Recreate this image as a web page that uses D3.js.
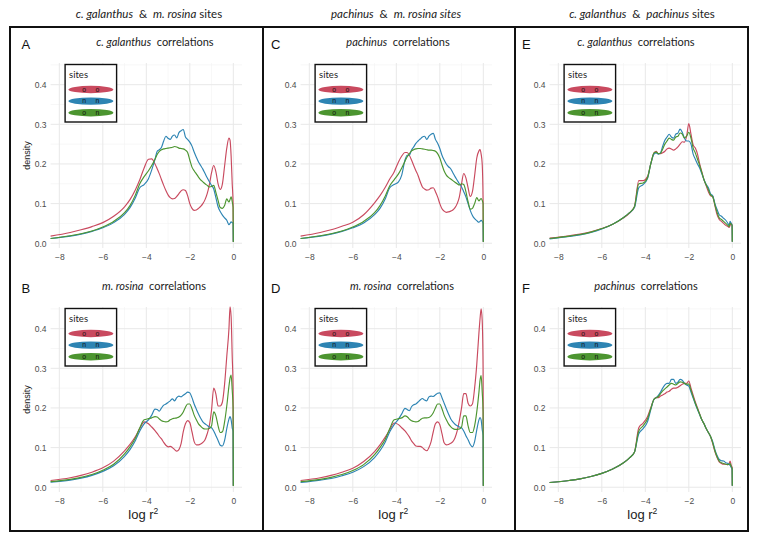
<!DOCTYPE html>
<html><head><meta charset="utf-8">
<script src="https://cdn.jsdelivr.net/npm/d3@7"></script>
<style>body{margin:0;background:#fff} svg{display:block}</style>
</head><body><svg id="c" width="758" height="541"></svg>
<script>
// ---------------- DATA ----------------
const logR2 = [-8.4,-7.5,-7,-6.5,-6,-5.5,-5,-4.75,-4.5,
  -4.3,-4.1,-3.9,-3.75,-3.6,-3.5,-3.4,-3.3,-3.2,-3.1,
  -3.0,-2.9,-2.8,-2.7,-2.6,-2.5,-2.4,-2.3,-2.2,-2.1,
  -2.0,-1.9,-1.8,-1.7,-1.6,-1.5,-1.4,-1.3,-1.2,-1.1,
  -1.0,-0.9,-0.8,-0.7,-0.6,-0.5,-0.4,-0.3,-0.2,
  -0.15,-0.1,-0.05,-0.01,0];
const siteKeys = ["o o","n n","o n"];
const xTicks = [-8,-6,-4,-2,0];
const yTicks = [0,0.1,0.2,0.3,0.4];
const columnHeaders = [
  [["c. galanthus",1],["  &  ",0],["m. rosina",1],[" sites",0]],
  [["pachinus",1],["  &  ",0],["m. rosina sites",1]],
  [["c. galanthus",1],["  &  ",0],["pachinus",1],[" sites",0]]
];
const panelLetters = ["A","B","C","D","E","F"];
const panelSpecies = ["c. galanthus","m. rosina","pachinus","m. rosina","c. galanthus","pachinus"];

// Panel A: c. galanthus correlations (c. galanthus & m. rosina sites)
const A_oo = [.018,.027,.034,.042,.052,.068,.092,.11,.135,
  .16,.19,.212,.213,.2,.188,.175,.16,.146,.133,
  .122,.115,.112,.113,.118,.125,.132,.135,.133,.12,
  .1,.088,.083,.084,.088,.093,.1,.11,.125,.148,
  .178,.196,.18,.15,.136,.15,.195,.24,.265,
  .26,.22,.15,.1,.004];
const A_nn = [.012,.018,.023,.03,.039,.052,.073,.09,.115,
  .14,.148,.163,.185,.212,.232,.236,.242,.258,.27,
  .265,.262,.27,.273,.266,.279,.284,.287,.268,.262,
  .255,.245,.23,.217,.205,.196,.187,.176,.165,.155,
  .146,.137,.115,.092,.08,.071,.064,.058,.047,
  .05,.054,.052,.05,.004];
const A_on = [.012,.019,.024,.031,.041,.055,.077,.095,.122,
  .15,.168,.183,.196,.212,.224,.232,.236,.238,.239,
  .24,.241,.242,.244,.243,.24,.239,.238,.235,.229,
  .21,.192,.183,.175,.167,.16,.155,.15,.146,.142,
  .143,.146,.128,.108,.09,.088,.095,.112,.104,
  .11,.117,.105,.09,.003];

// Panel B: m. rosina correlations (c. galanthus & m. rosina sites)
const B_oo = [.017,.024,.03,.038,.049,.066,.092,.108,.128,
  .148,.165,.16,.152,.143,.136,.128,.122,.113,.106,
  .102,.103,.1,.095,.091,.095,.11,.14,.16,.168,
  .163,.14,.115,.107,.107,.109,.113,.12,.135,.156,
  .195,.25,.235,.205,.205,.215,.26,.33,.4,
  .455,.43,.33,.25,.004];
const B_nn = [.013,.018,.023,.03,.04,.054,.078,.095,.118,
  .142,.16,.17,.182,.197,.196,.192,.2,.207,.21,
  .214,.218,.223,.218,.226,.23,.228,.232,.236,.24,
  .238,.226,.21,.197,.185,.174,.165,.16,.156,.152,
  .15,.142,.13,.118,.106,.104,.118,.148,.172,
  .178,.17,.15,.14,.004];
const B_on = [.014,.02,.025,.032,.043,.058,.084,.102,.124,
  .15,.17,.173,.175,.178,.177,.172,.168,.166,.165,
  .166,.17,.173,.174,.175,.177,.182,.19,.202,.21,
  .21,.198,.182,.17,.16,.154,.149,.147,.147,.148,
  .155,.19,.18,.155,.138,.14,.165,.205,.255,
  .275,.283,.245,.2,.003];

// Panel C: pachinus correlations (pachinus & m. rosina sites)
const C_oo = [.018,.027,.034,.043,.053,.072,.102,.12,.142,
  .162,.18,.205,.22,.229,.229,.222,.21,.196,.183,
  .171,.155,.142,.137,.134,.135,.139,.14,.13,.117,
  .1,.087,.081,.078,.079,.081,.084,.09,.1,.117,
  .15,.176,.165,.14,.118,.13,.17,.215,.233,
  .236,.225,.2,.11,.004];
const C_nn = [.012,.018,.023,.03,.039,.051,.072,.088,.113,
  .14,.148,.155,.172,.21,.222,.222,.235,.243,.252,
  .258,.263,.268,.27,.262,.27,.275,.277,.262,.252,
  .239,.222,.21,.2,.193,.188,.178,.168,.159,.15,
  .142,.13,.117,.1,.083,.07,.062,.057,.053,
  .055,.058,.055,.05,.004];
const C_on = [.012,.019,.024,.031,.041,.055,.077,.095,.12,
  .145,.16,.175,.19,.207,.218,.226,.233,.236,.238,
  .239,.239,.238,.237,.236,.235,.235,.234,.232,.226,
  .215,.198,.182,.172,.166,.162,.158,.154,.15,.147,
  .15,.148,.13,.105,.086,.088,.1,.115,.107,
  .11,.113,.108,.1,.003];

// Panel D: m. rosina correlations (pachinus & m. rosina sites)
const D_oo = [.017,.024,.03,.038,.048,.065,.09,.107,.127,
  .145,.162,.158,.15,.142,.135,.127,.117,.11,.104,
  .103,.103,.1,.095,.092,.1,.115,.14,.16,.165,
  .158,.135,.112,.107,.108,.111,.115,.125,.142,.168,
  .2,.236,.236,.212,.205,.21,.25,.31,.39,
  .425,.45,.42,.3,.004];
const D_nn = [.012,.018,.022,.029,.038,.052,.075,.092,.115,
  .14,.158,.172,.185,.199,.196,.193,.203,.208,.21,
  .215,.22,.224,.22,.218,.228,.23,.229,.233,.237,
  .238,.226,.212,.198,.185,.173,.165,.159,.155,.152,
  .15,.142,.13,.12,.108,.102,.115,.145,.17,
  .176,.17,.145,.13,.004];
const D_on = [.014,.02,.025,.032,.042,.057,.082,.1,.122,
  .148,.17,.173,.175,.18,.178,.172,.168,.166,.165,
  .166,.17,.174,.175,.175,.176,.18,.188,.2,.21,
  .21,.198,.182,.17,.16,.153,.148,.146,.146,.147,
  .152,.18,.18,.155,.138,.138,.155,.19,.24,
  .27,.282,.24,.19,.003];

// Panel E: c. galanthus correlations (c. galanthus & pachinus sites)
const E_oo = [.013,.019,.023,.029,.037,.048,.064,.075,.092,
  .158,.158,.168,.2,.228,.232,.226,.226,.228,.232,
  .238,.24,.238,.235,.238,.243,.25,.256,.255,.27,
  .302,.275,.248,.24,.225,.2,.18,.16,.145,.13,
  .12,.118,.095,.072,.06,.055,.05,.045,.042,
  .04,.045,.05,.045,.004];
const E_nn = [.011,.017,.021,.027,.036,.048,.065,.076,.09,
  .14,.148,.163,.2,.225,.228,.225,.228,.245,.26,
  .268,.275,.268,.265,.275,.278,.288,.28,.265,.258,
  .258,.25,.225,.212,.2,.19,.175,.16,.148,.14,
  .125,.12,.1,.085,.072,.068,.063,.058,.05,
  .045,.055,.05,.045,.004];
const E_on = [.012,.018,.022,.028,.037,.048,.065,.076,.092,
  .15,.152,.165,.2,.228,.23,.226,.227,.238,.25,
  .258,.265,.262,.26,.268,.27,.278,.275,.266,.27,
  .28,.265,.24,.228,.212,.196,.178,.16,.147,.135,
  .122,.117,.097,.078,.064,.06,.055,.05,.045,
  .042,.05,.048,.045,.004];

// Panel F: pachinus correlations (c. galanthus & pachinus sites)
const F_oo = [.012,.017,.021,.027,.035,.046,.062,.073,.088,
  .15,.162,.178,.2,.222,.226,.226,.23,.233,.236,
  .24,.242,.247,.25,.25,.252,.256,.26,.262,.262,
  .268,.25,.232,.215,.2,.185,.17,.16,.148,.138,
  .128,.11,.09,.075,.064,.06,.058,.058,.057,
  .06,.066,.055,.05,.004];
const F_nn = [.012,.017,.021,.027,.035,.046,.062,.073,.088,
  .135,.148,.165,.195,.222,.226,.232,.24,.25,.258,
  .262,.262,.272,.272,.262,.265,.272,.27,.262,.258,
  .255,.24,.225,.21,.196,.183,.17,.16,.148,.138,
  .128,.115,.095,.08,.07,.067,.066,.062,.06,
  .058,.055,.05,.045,.004];
const F_on = [.012,.017,.021,.027,.035,.046,.062,.073,.088,
  .142,.155,.172,.198,.222,.226,.229,.236,.243,.248,
  .253,.258,.262,.26,.258,.262,.266,.265,.262,.26,
  .26,.245,.228,.212,.198,.184,.17,.16,.148,.138,
  .128,.112,.092,.077,.066,.062,.06,.058,.057,
  .058,.06,.052,.048,.004];

const panelSeries = [[A_oo,A_nn,A_on],[B_oo,B_nn,B_on],[C_oo,C_nn,C_on],
                     [D_oo,D_nn,D_on],[E_oo,E_nn,E_on],[F_oo,F_nn,F_on]];

// ---------------- LAYOUT / STYLE ----------------
const colors = ["#c94a5f","#2d84b3","#4c9530"];
const colPlotLeft = [50.6, 300.6, 549.6];
const rowPlotTop = [63, 307];
const plotW = 191.4, plotH = 185;
const titleCenters = [155,154,398,402,636,646];
const headerCenters = [149,396,642];
const SANS = "'Liberation Sans', Arial, sans-serif";
const LATO = "Lato, 'Open Sans', sans-serif";

const svg = d3.select("#c");
svg.append("rect").attr("width",758).attr("height",541).attr("fill","#fff");

// column headers
columnHeaders.forEach((parts,i)=>{
  const t = svg.append("text").attr("x",headerCenters[i]).attr("y",18)
    .attr("text-anchor","middle").attr("font-family",LATO).attr("font-size",11.5)
    .attr("fill","#222").style("white-space","pre");
  parts.forEach(p=>t.append("tspan").text(p[0]).attr("font-style",p[1]?"italic":"normal"));
});

panelSeries.forEach((series,pi)=>{
  const col = Math.floor(pi/2), row = pi%2;
  const left = colPlotLeft[col], top = rowPlotTop[row];
  const x = d3.scaleLinear().domain([-8.4,0.4]).range([left,left+plotW]);
  const y = d3.scaleLinear().domain([-0.012,0.4547]).range([top+plotH,top]);
  const g = svg.append("g");

  // minor grid
  const xMinor = [-7,-5,-3,-1], yMinor=[0.05,0.15,0.25,0.35,0.45];
  g.selectAll(".xm").data(xMinor).join("line")
    .attr("x1",d=>x(d)).attr("x2",d=>x(d)).attr("y1",top).attr("y2",top+plotH)
    .attr("stroke","#f2f2f2").attr("stroke-width",0.6);
  g.selectAll(".ym").data(yMinor.filter(v=>y(v)>=top)).join("line")
    .attr("x1",left).attr("x2",left+plotW).attr("y1",d=>y(d)).attr("y2",d=>y(d))
    .attr("stroke","#f2f2f2").attr("stroke-width",0.6);
  // major grid
  g.selectAll(".xM").data(xTicks).join("line")
    .attr("x1",d=>x(d)).attr("x2",d=>x(d)).attr("y1",top).attr("y2",top+plotH)
    .attr("stroke","#e8e8e8").attr("stroke-width",1);
  g.selectAll(".yM").data(yTicks).join("line")
    .attr("x1",left).attr("x2",left+plotW).attr("y1",d=>y(d)).attr("y2",d=>y(d))
    .attr("stroke","#e8e8e8").attr("stroke-width",1);

  // axes (labels only, ggplot minimal style)
  const xa = g.append("g").attr("transform",`translate(0,${top+plotH+3})`)
    .call(d3.axisBottom(x).tickValues(xTicks).tickSize(0).tickFormat(d=>d<0?"\u2212"+Math.abs(d):d));
  const ya = g.append("g").attr("transform",`translate(${left-1},0)`)
    .call(d3.axisLeft(y).tickValues(yTicks).tickSize(0).tickFormat(d3.format(".1f")));
  [xa,ya].forEach(a=>{
    a.select(".domain").remove();
    a.selectAll("text").attr("fill","#4d4d4d").attr("font-family",SANS).attr("font-size",8.5);
  });
  ya.selectAll("text").attr("dy","0.35em");

  // lines
  const line = d3.line().x((d,i)=>x(logR2[i])).y(d=>y(d)).curve(d3.curveMonotoneX);
  series.forEach((s,si)=>{
    g.append("path").attr("d",line(s)).attr("fill","none")
      .attr("stroke",colors[si]).attr("stroke-width",1.15).attr("stroke-linejoin","round");
  });

  // legend
  const lx = left+14.5, ly = top+1.5;
  const lg = g.append("g");
  lg.append("rect").attr("x",lx).attr("y",ly).attr("width",51.5).attr("height",57.5)
    .attr("fill","#fff").attr("stroke","#111").attr("stroke-width",1.4);
  lg.append("text").attr("x",lx+4).attr("y",ly+13).text("sites")
    .attr("font-family",LATO).attr("font-size",9.5).attr("fill","#222");
  siteKeys.forEach((k,ki)=>{
    const cy = ly+25 + ki*11.6, cx = lx+25.8;
    lg.append("ellipse").attr("cx",cx).attr("cy",cy).attr("rx",22.5).attr("ry",3.7)
      .attr("fill",colors[ki]);
    const letters = k.split(" ");
    letters.forEach((L,li)=>{
      lg.append("text").attr("x",cx + (li? 6.5 : -6.8)).attr("y",cy+2.2).text(L)
        .attr("text-anchor","middle").attr("font-family",SANS).attr("font-size",6.8)
        .attr("fill","#111");
    });
  });

  // panel letter
  svg.append("text").attr("y",top-14.5).text(panelLetters[pi])
    .attr("font-family",SANS).attr("font-size",13).attr("fill","#111")
    .attr("x", col===0?21.5:(col===1?271:522));
  // panel title
  const tt = svg.append("text").attr("x",titleCenters[pi]).attr("y",top-17)
    .attr("text-anchor","middle").attr("font-family",LATO).attr("font-size",11)
    .attr("fill","#222").style("white-space","pre");
  tt.append("tspan").text(panelSpecies[pi]).attr("font-style","italic");
  tt.append("tspan").text("  correlations");

  // axis titles
  if(col===0){
    svg.append("text").attr("transform",`translate(${left-20.5},${top+plotH/2}) rotate(-90)`)
      .attr("text-anchor","middle").attr("font-family",SANS).attr("font-size",9)
      .attr("fill","#222").text("density");
  }
  if(row===1){
    const lt = svg.append("text").attr("x",left+plotW/2-3).attr("y",top+plotH+27)
      .attr("text-anchor","middle").attr("font-family",SANS).attr("font-size",13)
      .attr("fill","#222");
    lt.append("tspan").text("log r");
    lt.append("tspan").text("2").attr("font-size",8.5).attr("dy",-5.5);
  }
});

// frame and dividers
svg.append("rect").attr("x",10).attr("y",27).attr("width",738).attr("height",504)
  .attr("fill","none").attr("stroke","#111").attr("stroke-width",2);
[263,515].forEach(xv=>svg.append("line").attr("x1",xv).attr("x2",xv).attr("y1",27).attr("y2",531)
  .attr("stroke","#111").attr("stroke-width",2));
</script></body></html>
